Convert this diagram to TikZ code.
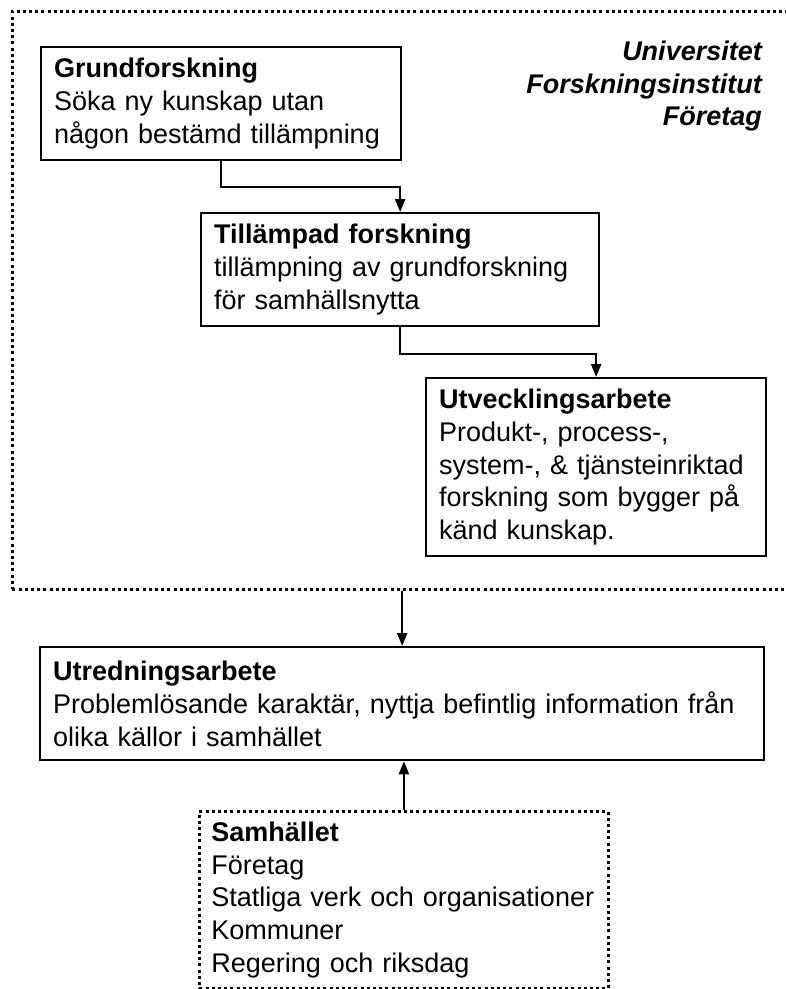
\documentclass[tikz,border=0pt]{standalone}
\usepackage{fontspec}
\setmainfont{Liberation Sans}
\usetikzlibrary{arrows.meta}
\hyphenpenalty=10000
\tikzset{
  box/.style={draw=black, line width=2.3pt, anchor=north west, inner xsep=13pt, inner ysep=0pt, align=left,
    font=\fontsize{27}{32.7}\selectfont},
  dotbox/.style={box, line width=2.8pt, dash pattern=on 3pt off 3.2pt},
  arr/.style={line width=2.2pt, -{Triangle[length=13pt,width=10pt]}},
}
\begin{document}
\begin{tikzpicture}[x=1pt,y=-1pt]
\useasboundingbox (0,0) rectangle (786,989);
\node[dotbox, minimum width=781pt, minimum height=578pt] (outer) at (11,10) {};
\node[anchor=north east, inner sep=0pt, align=right, font=\fontsize{27}{32.5}\selectfont\bfseries\itshape] (org) at (762,41)
  {Universitet\\Forskningsinstitut\\Företag};
\node[box, text width=334pt, minimum height=113pt] (grund) at (40,46)
  {\textbf{Grundforskning}\\Söka ny kunskap utan\\någon bestämd tillämpning};
\node[box, text width=372pt, minimum height=113pt] (till) at (200,212)
  {\textbf{Tillämpad forskning}\\tillämpning av grundforskning\\för samhällsnytta};
\node[box, text width=314pt, minimum height=178pt] (utv) at (425,377)
  {\textbf{Utvecklingsarbete}\\Produkt-, process-,\\system-, \& tjänsteinriktad\\forskning som bygger på\\känd kunskap.};
\node[box, text width=698pt, minimum height=113pt] (utred) at (39,646)
  {\textbf{Utredningsarbete}\\Problemlösande karaktär, nyttja befintlig information från\\olika källor i samhället};
\node[dotbox, inner xsep=12pt, text width=385pt, minimum height=177pt] (samh) at (198,810)
  {\textbf{Samhället}\\Företag\\Statliga verk och organisationer\\Kommuner\\Regering och riksdag};
\draw[arr] (grund.south) -- ++(0,26) -| (till.north);
\draw[arr] (till.south) -- ++(0,27) -| (utv.north);
\draw[arr] (utred.north |- outer.south) -- (utred.north);
\draw[arr] (samh.north) -- (samh.north |- utred.south);
\end{tikzpicture}
\end{document}
